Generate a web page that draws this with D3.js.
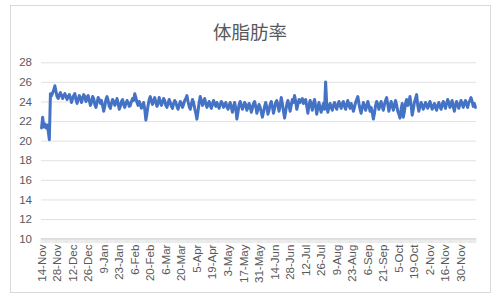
<!DOCTYPE html>
<html>
<head>
<meta charset="utf-8">
<script src="https://cdn.jsdelivr.net/npm/d3@7"></script>
<style>
  body { margin: 0; background: #fff; }
  text { font-family: "Liberation Sans", "Noto Sans", sans-serif; fill: #595959; }
</style>
</head>
<body>
<script>
// daily readings (percent)
const bodyFat = [
  21.3, 22.4, 21.4, 21.7, 21.3, 21.6, 21.0, 20.1, 24.8, 24.6, 24.9, 25.2, 25.6, 25.0, 24.5, 24.3, 24.7, 24.9, 24.6, 24.3,
  24.6, 24.8, 24.5, 24.2, 24.5, 24.7, 24.4, 23.9, 24.3, 24.6, 24.8, 24.2, 23.8, 24.2, 24.6, 24.4, 23.9, 24.3, 24.7, 24.5,
  24.0, 24.4, 24.6, 24.1, 23.6, 23.9, 24.5, 24.3, 23.7, 23.4, 23.9, 24.4, 24.2, 23.8, 24.1, 23.6, 23.0, 23.5, 24.2, 24.5,
  24.1, 23.5, 23.3, 23.8, 24.2, 24.0, 23.6, 23.9, 24.3, 23.8, 23.2, 23.5, 24.0, 24.2, 23.7, 23.4, 23.8, 24.1, 23.9, 23.5,
  23.6, 24.0, 24.3, 24.1, 24.8, 24.4, 23.9, 23.6, 24.0, 23.7, 23.3, 23.6, 23.9, 23.2, 22.1, 22.8, 23.6, 24.2, 24.5, 24.0,
  23.7, 24.1, 24.4, 23.9, 23.5, 23.8, 24.4, 24.0, 23.6, 23.9, 24.3, 24.1, 23.6, 23.4, 23.8, 24.2, 23.9, 23.5, 23.3, 23.8,
  24.1, 23.9, 23.5, 23.2, 23.6, 24.0, 23.8, 23.4, 23.7, 24.1, 24.3, 24.6, 24.0, 23.5, 23.2, 23.7, 24.2, 23.9, 23.3, 22.8,
  22.2, 23.0, 23.9, 24.5, 24.1, 23.6, 23.9, 24.3, 23.8, 23.4, 23.7, 24.0, 23.6, 23.3, 23.8, 24.1, 23.7, 23.5, 23.9, 23.6,
  23.3, 23.7, 24.0, 23.8, 23.4, 23.6, 23.9, 23.5, 23.2, 23.6, 23.9, 23.4, 22.9, 23.5, 23.9, 23.3, 22.2, 22.9, 23.7, 24.0,
  23.6, 23.2, 23.5, 23.9, 23.7, 23.1, 23.4, 23.8, 23.5, 22.9, 23.3, 23.8, 24.0, 23.5, 22.8, 23.2, 23.7, 23.4, 22.9, 22.4,
  22.9, 23.5, 23.9, 23.4, 22.7, 23.1, 23.7, 24.0, 23.5, 22.8, 23.3, 23.9, 24.1, 23.6, 23.0, 23.6, 24.4, 23.8, 23.0, 22.3,
  23.0, 23.7, 24.1, 23.6, 23.0, 23.6, 24.2, 23.9, 24.6, 24.0, 23.2, 23.7, 24.2, 23.9, 24.1, 24.3, 23.8, 24.0, 24.2, 23.5,
  22.8, 23.6, 24.1, 23.7, 23.1, 23.8, 24.2, 23.5, 22.7, 23.4, 23.9, 23.3, 22.9, 23.4, 23.8, 23.2, 26.0, 23.6, 22.9, 23.5,
  23.8, 23.4, 23.1, 23.6, 23.9, 23.5, 23.2, 23.7, 24.0, 23.6, 23.3, 23.8, 24.0, 23.5, 23.2, 23.7, 24.1, 23.6, 23.3, 23.8,
  23.5, 23.0, 23.4, 23.9, 24.2, 24.5, 23.8, 23.2, 22.8, 23.4, 23.9, 23.6, 23.1, 23.5, 24.0, 23.6, 23.0, 23.4, 22.9, 22.2,
  22.8, 23.6, 24.0, 23.7, 23.2, 23.6, 24.0, 23.5, 23.1, 23.7, 24.1, 24.4, 23.7, 23.0, 23.5, 24.0, 23.6, 23.1, 23.6, 24.1,
  23.6, 23.0, 22.7, 22.3, 23.2, 23.8, 22.4, 23.0, 23.8, 24.2, 23.6, 23.9, 24.5, 23.6, 22.6, 23.2, 23.9, 24.3, 24.7, 23.6,
  23.0, 23.5, 23.9, 23.6, 23.2, 23.5, 23.9, 23.7, 23.3, 23.6, 24.0, 23.6, 23.2, 23.5, 23.8, 23.4, 23.1, 23.6, 23.9, 23.5,
  23.2, 23.7, 24.0, 23.6, 23.3, 23.8, 24.2, 23.9, 23.4, 23.7, 24.1, 23.5, 23.0, 23.6, 24.0, 23.7, 23.3, 23.7, 24.1, 23.8,
  23.4, 23.8, 24.1, 23.7, 23.4, 23.9, 24.1, 24.4, 24.0, 23.5, 23.8, 23.4
];

// every 14th category carries a label
const tickLabels = ["14-Nov", "28-Nov", "12-Dec", "26-Dec", "9-Jan", "23-Jan", "6-Feb", "20-Feb",
  "6-Mar", "20-Mar", "5-Apr", "19-Apr", "3-May", "17-May", "31-May", "14-Jun", "28-Jun", "12-Jul",
  "26-Jul", "9-Aug", "23-Aug", "6-Sep", "21-Sep", "5-Oct", "19-Oct", "2-Nov", "16-Nov", "30-Nov"];
const labelStep = 14;
const yTicks = [10, 12, 14, 16, 18, 20, 22, 24, 26, 28];
const title = "体脂肪率";

let width = 500, height = 302;
let margin = { top: 62, right: 24, bottom: 63, left: 41 };

let svg = d3.select("body").append("svg")
    .attr("width", width)
    .attr("height", height);

// chart border
svg.append("rect")
    .attr("x", 10.5).attr("y", 5.5)
    .attr("width", 480).attr("height", 287)
    .attr("fill", "#fff")
    .attr("stroke", "#d9d9d9");

svg.append("text")
    .attr("x", 250).attr("y", 38.5)
    .attr("text-anchor", "middle")
    .style("font-family", "'Noto Sans CJK JP', sans-serif")
    .style("font-size", "18.5px")
    .text(title);

let x = d3.scaleBand()
    .domain(d3.range(bodyFat.length))
    .range([margin.left, width - margin.right]);

let y = d3.scaleLinear()
    .domain([10, 28])
    .range([238.6, 62.3]);

// gridlines + y labels
let yAxis = d3.axisLeft(y)
    .tickValues(yTicks)
    .tickSize(-(width - margin.right - margin.left))
    .tickPadding(9)
    .tickFormat(d3.format("d"));

let gy = svg.append("g")
    .attr("transform", `translate(${margin.left},0)`)
    .call(yAxis);
gy.select(".domain").remove();
gy.selectAll(".tick line").attr("stroke", "#d9d9d9").attr("stroke-width", 0.8);
gy.selectAll(".tick text").style("font-size", "11.5px").attr("fill", "#595959");

// x axis: tick mark between every category
let boundaries = d3.range(bodyFat.length + 1).map((i) => i < bodyFat.length ? x(i) : x.range()[1]);
let gx = svg.append("g");
gx.selectAll("line.tk")
    .data(boundaries)
    .join("line")
    .attr("class", "tk")
    .attr("x1", (d) => d).attr("x2", (d) => d)
    .attr("y1", y(10)).attr("y2", y(10) + 4.5)
    .attr("stroke", "#d9d9d9")
    .attr("stroke-width", 0.6);
gx.append("line")
    .attr("x1", x.range()[0]).attr("x2", x.range()[1])
    .attr("y1", y(10)).attr("y2", y(10))
    .attr("stroke", "#d9d9d9");

gx.selectAll("text.lbl")
    .data(tickLabels)
    .join("text")
    .attr("class", "lbl")
    .attr("transform", (d, k) => `translate(${x(k * labelStep) + x.bandwidth() / 2 + 4},${y(10) + 6}) rotate(-90)`)
    .attr("text-anchor", "end")
    .style("font-size", "11.5px")
    .text((d) => d);

// the series
let line = d3.line()
    .x((d, i) => x(i) + x.bandwidth() / 2)
    .y((d) => y(d));

svg.append("path")
    .datum(bodyFat)
    .attr("d", line)
    .attr("fill", "none")
    .attr("stroke", "#4472c4")
    .attr("stroke-width", 3)
    .attr("stroke-linejoin", "round")
    .attr("stroke-linecap", "round");
</script>
</body>
</html>
